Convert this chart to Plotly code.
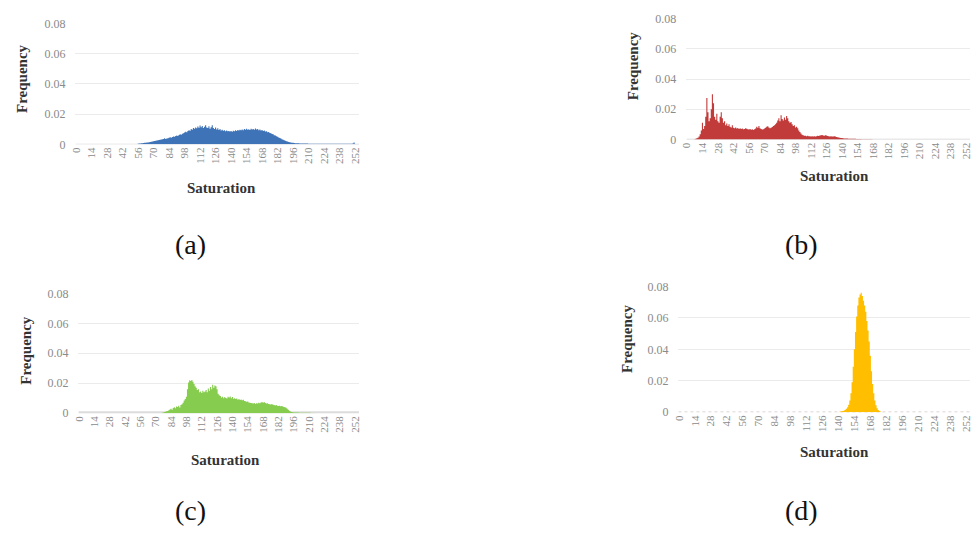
import plotly.graph_objects as go

# Saturation histogram bins (0..255) and the normalized frequency of each bin
saturation = list(range(256))

freq_a = [
    0, 0, 0, 0, 0, 0, 0, 0, 0, 0, 0, 0, 0, 0, 0, 0,
    0, 0, 0, 0, 0, 0, 0, 0, 0, 0, 0, 0, 0, 0, 0, 0,
    0, 0, 0, 0, 0, 0, 0, 0, 0, 0, 0, 0, 0, 0, 0, 0,
    0, 0, 0, 0, 0, 0, 0, 0, 0.0004, 0.0005, 0.0006, 0.0007, 0.0008, 0.0009, 0.0010, 0.0011,
    0.0012, 0.0013, 0.0014, 0.0016, 0.0017, 0.0019, 0.0020, 0.0022, 0.0023, 0.0025, 0.0027, 0.0028, 0.0030, 0.0032, 0.0034, 0.0035,
    0.0040, 0.0036, 0.0038, 0.0041, 0.0043, 0.0047, 0.0044, 0.0049, 0.0052, 0.0050, 0.0056, 0.0059, 0.0055, 0.0062, 0.0066, 0.0063,
    0.0070, 0.0074, 0.0078, 0.0084, 0.0080, 0.0089, 0.0094, 0.0090, 0.0101, 0.0097, 0.0108, 0.0103, 0.0112, 0.0106, 0.0118, 0.0110,
    0.0124, 0.0113, 0.0121, 0.0109, 0.0117, 0.0126, 0.0112, 0.0108, 0.0119, 0.0104, 0.0114, 0.0127, 0.0109, 0.0102, 0.0112, 0.0098,
    0.0106, 0.0095, 0.0101, 0.0092, 0.0097, 0.0090, 0.0094, 0.0087, 0.0091, 0.0086, 0.0089, 0.0085, 0.0088, 0.0084, 0.0090, 0.0087,
    0.0093, 0.0089, 0.0095, 0.0091, 0.0097, 0.0093, 0.0099, 0.0094, 0.0101, 0.0096, 0.0103, 0.0097, 0.0100, 0.0095, 0.0104, 0.0098,
    0.0102, 0.0096, 0.0105, 0.0099, 0.0101, 0.0094, 0.0098, 0.0092, 0.0095, 0.0089, 0.0091, 0.0085, 0.0086, 0.0080, 0.0081, 0.0075,
    0.0074, 0.0068, 0.0066, 0.0061, 0.0058, 0.0053, 0.0050, 0.0046, 0.0042, 0.0038, 0.0034, 0.0031, 0.0027, 0.0024, 0.0021, 0.0018,
    0.0016, 0.0014, 0.0012, 0.0011, 0.0010, 0.0009, 0.0008, 0.0008, 0.0007, 0.0007, 0.0006, 0.0006, 0.0006, 0.0005, 0.0005, 0.0005,
    0.0005, 0.0005, 0.0004, 0.0004, 0.0004, 0.0004, 0.0004, 0.0004, 0.0004, 0.0004, 0.0004, 0.0004, 0.0004, 0.0004, 0.0004, 0.0004,
    0.0004, 0.0004, 0.0004, 0.0004, 0.0004, 0.0004, 0.0004, 0.0004, 0.0004, 0.0004, 0.0004, 0.0004, 0.0004, 0.0004, 0.0004, 0.0004,
    0.0004, 0.0004, 0.0004, 0.0004, 0.0004, 0.0004, 0.0004, 0.0004, 0.0004, 0.0004, 0.0006, 0.0012, 0.0002, 0.0002, 0.0002, 0.0002,
]

freq_b = [
    0, 0, 0, 0, 0, 0, 0, 0.0002, 0.0004, 0.0008, 0.0012, 0.0020, 0.0035, 0.0060, 0.0110, 0.0070,
    0.0090, 0.0150, 0.0275, 0.0180, 0.0120, 0.0140, 0.0200, 0.0300, 0.0240, 0.0150, 0.0130, 0.0170, 0.0120, 0.0110, 0.0150, 0.0180,
    0.0140, 0.0110, 0.0120, 0.0095, 0.0105, 0.0090, 0.0100, 0.0085, 0.0080, 0.0095, 0.0078, 0.0075, 0.0080, 0.0072, 0.0076, 0.0070,
    0.0074, 0.0069, 0.0072, 0.0068, 0.0070, 0.0075, 0.0071, 0.0068, 0.0066, 0.0070, 0.0064, 0.0067, 0.0063, 0.0068, 0.0072, 0.0085,
    0.0078, 0.0090, 0.0075, 0.0070, 0.0066, 0.0068, 0.0072, 0.0078, 0.0084, 0.0088, 0.0080, 0.0074, 0.0078, 0.0082, 0.0090, 0.0095,
    0.0100, 0.0110, 0.0125, 0.0140, 0.0120, 0.0160, 0.0135, 0.0125, 0.0145, 0.0130, 0.0155, 0.0140, 0.0120, 0.0110, 0.0115, 0.0100,
    0.0090, 0.0095, 0.0080, 0.0085, 0.0075, 0.0060, 0.0050, 0.0040, 0.0032, 0.0028, 0.0025, 0.0024, 0.0022, 0.0024, 0.0021, 0.0022,
    0.0020, 0.0022, 0.0019, 0.0021, 0.0020, 0.0022, 0.0024, 0.0023, 0.0026, 0.0028, 0.0030, 0.0027, 0.0025, 0.0028, 0.0026, 0.0023,
    0.0022, 0.0020, 0.0021, 0.0019, 0.0020, 0.0022, 0.0019, 0.0017, 0.0015, 0.0013, 0.0012, 0.0010, 0.0009, 0.0008, 0.0007, 0.0007,
    0.0006, 0.0006, 0.0005, 0.0005, 0.0005, 0.0004, 0.0004, 0.0004, 0.0004, 0.0003, 0.0003, 0.0003, 0.0003, 0.0003, 0.0002, 0.0002,
    0.0002, 0.0002, 0.0002, 0.0002, 0.0001, 0.0001, 0.0001, 0.0001, 0, 0, 0, 0, 0, 0, 0, 0,
    0, 0, 0, 0, 0, 0, 0, 0, 0, 0, 0, 0, 0, 0, 0, 0,
    0, 0, 0, 0, 0, 0, 0, 0, 0, 0, 0, 0, 0, 0, 0, 0,
    0, 0, 0, 0, 0, 0, 0, 0, 0, 0, 0, 0, 0, 0, 0, 0,
    0, 0, 0, 0, 0, 0, 0, 0, 0, 0, 0, 0, 0, 0, 0, 0,
    0, 0, 0, 0, 0, 0, 0, 0, 0, 0, 0, 0, 0, 0, 0, 0,
]

freq_c = [
    0, 0, 0, 0, 0, 0, 0, 0, 0, 0, 0, 0, 0, 0, 0, 0,
    0, 0, 0, 0, 0, 0, 0, 0, 0, 0, 0, 0, 0, 0, 0, 0,
    0, 0, 0, 0, 0, 0, 0, 0, 0, 0, 0, 0, 0, 0, 0, 0,
    0, 0, 0, 0, 0, 0, 0, 0, 0, 0, 0, 0, 0, 0, 0, 0,
    0, 0, 0, 0, 0, 0, 0, 0, 0, 0, 0, 0, 0.0003, 0.0005, 0.0008, 0.0010,
    0.0012, 0.0015, 0.0020, 0.0025, 0.0030, 0.0022, 0.0035, 0.0040, 0.0032, 0.0045, 0.0042, 0.0050, 0.0038, 0.0055, 0.0060, 0.0070,
    0.0085, 0.0095, 0.0110, 0.0160, 0.0205, 0.0220, 0.0215, 0.0222, 0.0210, 0.0195, 0.0180, 0.0170, 0.0155, 0.0160, 0.0140, 0.0145,
    0.0135, 0.0150, 0.0140, 0.0145, 0.0155, 0.0140, 0.0165, 0.0150, 0.0175, 0.0160, 0.0190, 0.0170, 0.0185, 0.0180, 0.0160, 0.0130,
    0.0120, 0.0115, 0.0105, 0.0110, 0.0100, 0.0108, 0.0102, 0.0098, 0.0110, 0.0105, 0.0112, 0.0100, 0.0108, 0.0096, 0.0100, 0.0094,
    0.0098, 0.0090, 0.0095, 0.0088, 0.0092, 0.0086, 0.0090, 0.0082, 0.0080, 0.0076, 0.0078, 0.0072, 0.0070, 0.0068, 0.0066, 0.0064,
    0.0068, 0.0062, 0.0066, 0.0064, 0.0070, 0.0066, 0.0072, 0.0075, 0.0070, 0.0074, 0.0068, 0.0065, 0.0066, 0.0062, 0.0060, 0.0058,
    0.0062, 0.0056, 0.0054, 0.0052, 0.0055, 0.0050, 0.0048, 0.0050, 0.0046, 0.0048, 0.0044, 0.0042, 0.0040, 0.0036, 0.0030, 0.0022,
    0.0016, 0.0011, 0.0008, 0.0006, 0.0005, 0.0005, 0.0004, 0.0004, 0.0004, 0.0003, 0.0003, 0.0003, 0.0003, 0.0003, 0.0002, 0.0002,
    0.0002, 0.0002, 0.0002, 0.0002, 0.0001, 0.0001, 0.0001, 0.0001, 0, 0, 0, 0, 0, 0, 0, 0,
    0, 0, 0, 0, 0, 0, 0, 0, 0, 0, 0, 0, 0, 0, 0, 0,
    0, 0, 0, 0, 0, 0, 0, 0, 0, 0, 0, 0, 0, 0, 0, 0,
]

freq_d = [
    0, 0, 0, 0, 0, 0, 0, 0, 0, 0, 0, 0, 0, 0, 0, 0,
    0, 0, 0, 0, 0, 0, 0, 0, 0, 0, 0, 0, 0, 0, 0, 0,
    0, 0, 0, 0, 0, 0, 0, 0, 0, 0, 0, 0, 0, 0, 0, 0,
    0, 0, 0, 0, 0, 0, 0, 0, 0, 0, 0, 0, 0, 0, 0, 0,
    0, 0, 0, 0, 0, 0, 0, 0, 0, 0, 0, 0, 0, 0, 0, 0,
    0, 0, 0, 0, 0, 0, 0, 0, 0, 0, 0, 0, 0, 0, 0, 0,
    0, 0, 0, 0, 0, 0, 0, 0, 0, 0, 0, 0, 0, 0, 0, 0,
    0, 0, 0, 0, 0, 0, 0, 0, 0, 0, 0, 0, 0, 0, 0, 0,
    0, 0, 0, 0, 0, 0, 0, 0, 0, 0, 0, 0, 0.0002, 0.0003, 0.0004, 0.0006,
    0.0008, 0.0011, 0.0015, 0.0022, 0.0032, 0.0048, 0.0075, 0.0120, 0.0190, 0.0290, 0.0400, 0.0510, 0.0610, 0.0680, 0.0730, 0.0750,
    0.0760, 0.0740, 0.0710, 0.0680, 0.0640, 0.0580, 0.0520, 0.0450, 0.0360, 0.0260, 0.0180, 0.0120, 0.0075, 0.0045, 0.0025, 0.0014,
    0.0008, 0.0004, 0.0002, 0, 0, 0, 0, 0, 0, 0, 0, 0, 0, 0, 0, 0,
    0, 0, 0, 0, 0, 0, 0, 0, 0, 0, 0, 0, 0, 0, 0, 0,
    0, 0, 0, 0, 0, 0, 0, 0, 0, 0, 0, 0, 0, 0, 0, 0,
    0, 0, 0, 0, 0, 0, 0, 0, 0, 0, 0, 0, 0, 0, 0, 0,
    0, 0, 0, 0, 0, 0, 0, 0, 0, 0, 0, 0, 0, 0, 0, 0,
]

x_ticks = list(range(0, 253, 14))
y_ticks = [0, 0.02, 0.04, 0.06, 0.08]
y_tick_text = ["0", "0.02", "0.04", "0.06", "0.08"]
captions = ["(a)", "(b)", "(c)", "(d)"]
series = [freq_a, freq_b, freq_c, freq_d]
colors = ["#3F73B8", "#C23B3B", "#86CC4E", "#FFBF00"]

W, H = 973, 539

# Pixel layout of each panel: plot box (left, right, bottom, top),
# title positions and caption position.
panels = [
    dict(box=(70, 356, 141, 17), freq=(16, 73), sat=(217, 186), cap=(186, 244),
         base=dict(color="#C4C4C4", width=1, dash="solid")),
    dict(box=(686, 972, 136, 12), freq=(633, 60), sat=(835, 173), cap=(802, 244),
         base=dict(color="#D4D4D4", width=1.5, dash="solid")),
    dict(box=(73, 356, 417, 294), freq=(20, 352), sat=(221, 465), cap=(186, 517),
         base=dict(color="#DCDCDC", width=4, dash="solid")),
    dict(box=(678, 972, 416, 287), freq=(626, 340), sat=(835, 457), cap=(802, 517),
         base=dict(color="#D8C8C8", width=1.5, dash="dot")),
]

serif = "Liberation Serif, DejaVu Serif, serif"
fig = go.Figure()
annotations = []
shapes = []

for i, (p, freq, col, cap) in enumerate(zip(panels, series, colors, captions)):
    n = "" if i == 0 else str(i + 1)
    left, right, bottom, top = p["box"]
    fig.add_trace(go.Scatter(
        x=saturation, y=freq, xaxis="x" + n, yaxis="y" + n,
        mode="lines", line=dict(color=col, width=0, shape="hvh"),
        fill="tozeroy", fillcolor=col, showlegend=False, hoverinfo="skip",
    ))
    fig.update_layout(**{
        "xaxis" + n: dict(
            domain=[left / W, right / W], anchor="y" + n,
            range=[-0.5, 255.5], tickmode="array", tickvals=x_ticks,
            ticktext=[str(v) for v in x_ticks], tickangle=-90,
            tickfont=dict(family=serif, size=11, color="#8A8A8A"),
            showgrid=False, zeroline=False, showline=False, ticks="",
        ),
        "yaxis" + n: dict(
            domain=[1 - bottom / H, 1 - top / H], anchor="x" + n,
            range=[0, 0.08], tickmode="array", tickvals=y_ticks,
            ticktext=y_tick_text,
            tickfont=dict(family=serif, size=12, color="#8A8A8A"),
            showgrid=True, gridcolor="#EBEBEB", gridwidth=1,
            zeroline=False, showline=False, ticks="", ticklabelstandoff=9,
        ),
    })
    # baseline along zero frequency
    shapes.append(dict(
        type="line", xref="x" + n, yref="y" + n, x0=-0.5, x1=255.5, y0=0, y1=0,
        line=p["base"], layer="below",
    ))
    fx, fy = p["freq"]
    annotations.append(dict(
        text="Frequency", x=fx / W, y=1 - fy / H, xref="paper", yref="paper",
        textangle=-90, showarrow=False, xanchor="center", yanchor="middle",
        font=dict(family=serif, size=15, color="#333333", weight="bold"),
    ))
    sx, sy = p["sat"]
    annotations.append(dict(
        text="Saturation", x=sx / W, y=1 - sy / H, xref="paper", yref="paper",
        showarrow=False, xanchor="center", yanchor="middle",
        font=dict(family=serif, size=15, color="#333333", weight="bold"),
    ))
    cx, cy = p["cap"]
    annotations.append(dict(
        text=cap, x=cx / W, y=1 - cy / H, xref="paper", yref="paper",
        showarrow=False, xanchor="center", yanchor="middle",
        font=dict(family=serif, size=28, color="#111111"),
    ))

fig.update_layout(
    width=W, height=H, margin=dict(l=0, r=0, t=0, b=0),
    paper_bgcolor="white", plot_bgcolor="white",
    annotations=annotations, shapes=shapes,
)

fig.write_html("out.html")
